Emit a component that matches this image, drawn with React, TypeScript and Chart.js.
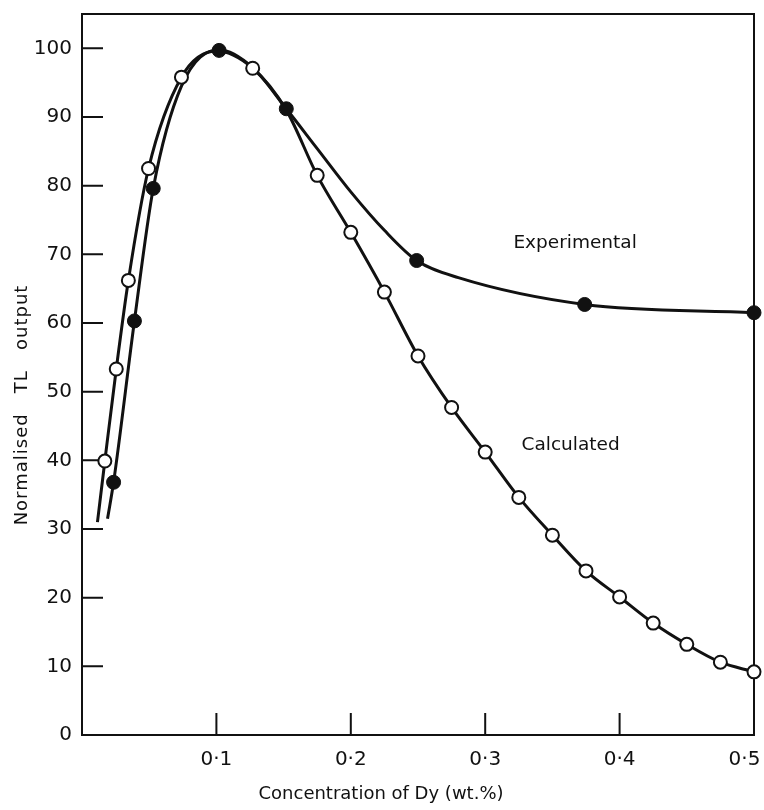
import React, { useEffect, useRef } from "react";
import { Chart, registerables } from "chart.js";

Chart.register(...registerables);

// Calculated (open circles)
const calcX = [0.017, 0.0255, 0.0345, 0.0495, 0.074, 0.127, 0.175, 0.2, 0.225, 0.25, 0.275, 0.3, 0.325, 0.35, 0.375, 0.4, 0.425, 0.45, 0.475, 0.5];
const calcY = [39.9, 53.3, 66.2, 82.5, 95.8, 97.1, 81.5, 73.2, 64.5, 55.2, 47.7, 41.2, 34.6, 29.1, 23.9, 20.1, 16.3, 13.2, 10.6, 9.2];

// Experimental (filled circles)
const expX = [0.0235, 0.039, 0.053, 0.102, 0.152, 0.249, 0.374, 0.5];
const expY = [36.8, 60.3, 79.6, 99.7, 91.2, 69.1, 62.7, 61.5];

// Hand-drawn smooth curves
const calcCurveX = [0.0115, 0.017, 0.0255, 0.0345, 0.0495, 0.074, 0.1, 0.127, 0.152, 0.175, 0.2, 0.225, 0.25, 0.275, 0.3, 0.325, 0.35, 0.375, 0.4, 0.425, 0.45, 0.475, 0.5];
const calcCurveY = [31, 39.9, 53.3, 66.2, 82.5, 95.8, 99.6, 97.1, 91.0, 81.5, 73.2, 64.5, 55.2, 47.7, 41.2, 34.6, 29.1, 23.9, 20.1, 16.3, 13.2, 10.6, 9.2];
const expCurveX = [0.019, 0.0235, 0.039, 0.053, 0.074, 0.102, 0.127, 0.152, 0.175, 0.2, 0.225, 0.249, 0.28, 0.374, 0.5];
const expCurveY = [31.5, 36.8, 60.3, 79.6, 94.5, 99.8, 97.2, 91.2, 85.4, 79.1, 73.5, 69.1, 66.6, 62.7, 61.5];

const xTickValues = [0.1, 0.2, 0.3, 0.4, 0.5];
const xTickLabels = ["0·1", "0·2", "0·3", "0·4", "0·5   "];
const yTickValues = [0, 10, 20, 30, 40, 50, 60, 70, 80, 90, 100];

const xTitle = "Concentration of Dy (wt.%)";
const yTitle = "Normalised   TL   output";
const annotations = [
  { text: "Experimental", x: 0.321, y: 71.6 },
  { text: "Calculated", x: 0.327, y: 42.2 },
];

const FONT = "'DejaVu Sans', sans-serif";
const INK = "#111";

const pts = (xs: number[], ys: number[]) => xs.map((x, i) => ({ x, y: ys[i] }));

const decorPlugin = {
  id: "decor",
  beforeDatasetsDraw(chart: any) {
    const { ctx, chartArea } = chart;
    const xs = chart.scales.x;
    const ys = chart.scales.y;
    ctx.save();
    ctx.strokeStyle = INK;
    ctx.lineWidth = 2;
    ctx.strokeRect(chartArea.left, chartArea.top, chartArea.right - chartArea.left, chartArea.bottom - chartArea.top);
    ctx.beginPath();
    yTickValues.forEach((v) => {
      if (v === 0) return;
      const py = ys.getPixelForValue(v);
      ctx.moveTo(chartArea.left, py);
      ctx.lineTo(chartArea.left + 21, py);
    });
    xTickValues.forEach((v) => {
      const px = xs.getPixelForValue(v);
      ctx.moveTo(px, chartArea.bottom);
      ctx.lineTo(px, chartArea.bottom - 22);
    });
    ctx.stroke();
    ctx.restore();
  },
  afterDraw(chart: any) {
    const { ctx } = chart;
    const xs = chart.scales.x;
    const ys = chart.scales.y;
    ctx.save();
    ctx.fillStyle = INK;
    ctx.font = `18.5px ${FONT}`;
    ctx.textBaseline = "middle";
    ctx.textAlign = "left";
    annotations.forEach((a) => {
      ctx.fillText(a.text, xs.getPixelForValue(a.x), ys.getPixelForValue(a.y));
    });
    ctx.font = `18px ${FONT}`;
    ctx.textAlign = "center";
    ctx.fillText(xTitle, 381, 794);
    ctx.translate(22, 405);
    ctx.rotate(-Math.PI / 2);
    ctx.font = `18px ${FONT}`;
    try {
      (ctx as any).letterSpacing = "1px";
    } catch (e) {}
    ctx.fillText(yTitle, 0, 0);
    ctx.restore();
  },
};

export default function App() {
  const ref = useRef<HTMLCanvasElement | null>(null);
  useEffect(() => {
    document.body.style.margin = "0";
    const canvas = ref.current;
    if (!canvas) return;
    const chart = new Chart(canvas, {
      type: "scatter",
      data: {
        datasets: [
          {
            label: "Calculated points",
            data: pts(calcX, calcY),
            showLine: false,
            pointRadius: 6.5,
            pointBorderWidth: 2,
            pointBackgroundColor: "#fff",
            pointBorderColor: INK,
            clip: false,
            order: 0,
          } as any,
          {
            label: "Experimental points",
            data: pts(expX, expY),
            showLine: false,
            pointRadius: 7,
            pointBorderWidth: 1,
            pointBackgroundColor: INK,
            pointBorderColor: INK,
            clip: false,
            order: 0,
          },
          {
            label: "Calculated curve",
            data: pts(calcCurveX, calcCurveY),
            showLine: true,
            pointRadius: 0,
            borderColor: INK,
            borderWidth: 3,
            cubicInterpolationMode: "monotone",
            clip: false,
            order: 1,
          },
          {
            label: "Experimental curve",
            data: pts(expCurveX, expCurveY),
            showLine: true,
            pointRadius: 0,
            borderColor: INK,
            borderWidth: 3,
            cubicInterpolationMode: "monotone",
            clip: false,
            order: 1,
          },
        ],
      },
      options: {
        responsive: false,
        animation: false,
        layout: { padding: { top: 14, right: 10, left: 0, bottom: 0 } },
        plugins: { legend: { display: false }, tooltip: { enabled: false } },
        scales: {
          x: {
            type: "linear",
            min: 0,
            max: 0.5,
            grid: { display: false, drawTicks: false },
            border: { display: false },
            afterBuildTicks: (s: any) => {
              s.ticks = xTickValues.map((v) => ({ value: v }));
            },
            afterFit: (s: any) => {
              s.height = 75;
              s.paddingLeft = 0;
              s.paddingRight = 0;
            },
            ticks: {
              color: INK,
              padding: 13,
              maxRotation: 0,
              autoSkip: false,
              font: { family: FONT, size: 20 },
              callback: (_v: any, i: number) => xTickLabels[i],
            },
          },
          y: {
            type: "linear",
            min: 0,
            max: 105,
            grid: { display: false, drawTicks: false },
            border: { display: false },
            afterBuildTicks: (s: any) => {
              s.ticks = yTickValues.map((v) => ({ value: v }));
            },
            afterFit: (s: any) => {
              s.width = 82;
              s.paddingTop = 0;
              s.paddingBottom = 0;
            },
            ticks: {
              color: INK,
              padding: 10,
              autoSkip: false,
              font: { family: FONT, size: 20 },
              callback: (v: any) => String(v),
            },
          },
        },
      },
      plugins: [decorPlugin],
    });
    return () => chart.destroy();
  }, []);
  return (
    <div style={{ width: 764, height: 810 }}>
      <canvas ref={ref} width={764} height={810} style={{ width: 764, height: 810, display: "block" }} />
    </div>
  );
}
